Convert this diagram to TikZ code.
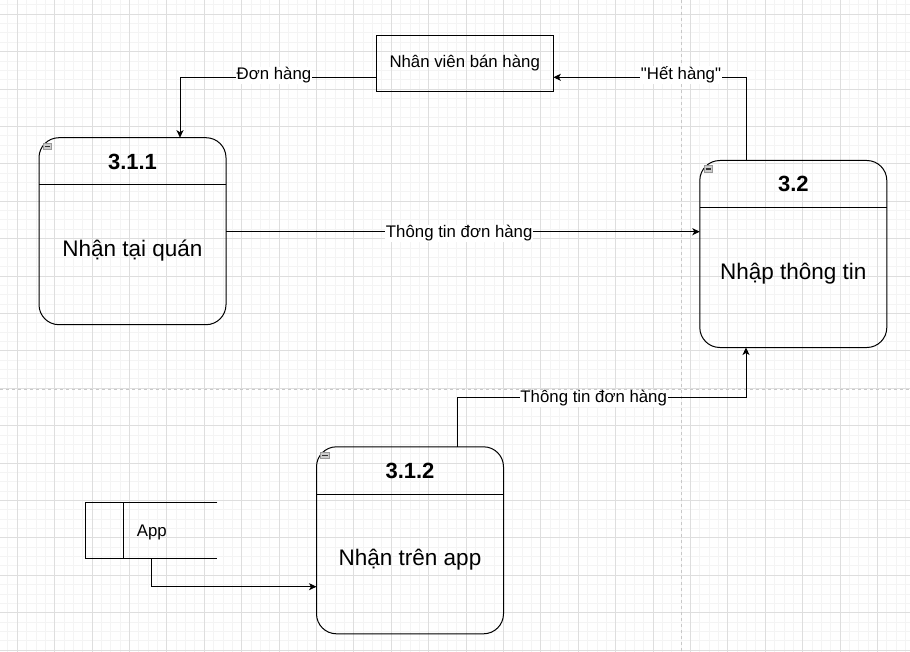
\documentclass[tikz,border=0pt]{standalone}
\usepackage{fontspec}
\setmainfont{Liberation Sans}
\newfontfamily\plainsans{Liberation Sans}
\usetikzlibrary{arrows.meta,calc}
\definecolor{gridmajor}{HTML}{DEDEDE}
\definecolor{gridminor}{HTML}{F4F4F4}
\definecolor{pagebrk}{HTML}{C8C8C8}
\begin{document}
\begin{tikzpicture}[x=1pt,y=-1pt,
  proc/.style={draw=black, line width=1pt, rounded corners=20pt, minimum width=187pt, minimum height=187pt, inner sep=0pt, outer sep=0pt},
  flow/.style={draw=black, line width=1pt, -{Stealth[length=7.5pt,width=7pt,inset=2pt]}},
  lbl/.style={fill=white, inner sep=0.6pt, anchor=base, font=\fontsize{16.8}{19}\selectfont},
  ttl/.style={anchor=base, font=\bfseries\fontsize{22}{25}\selectfont},
  bdy/.style={anchor=base, font=\fontsize{22.5}{26}\selectfont},
  ent/.style={draw=black, line width=1pt, inner sep=0pt, outer sep=0pt, font=\fontsize{16.8}{19}\selectfont}]
\useasboundingbox (0,0) rectangle (910,652);
\fill[white] (0,0) rectangle (910,652);
\begin{scope}
\clip (0,0) rectangle (910,652);
\foreach \i in {0,...,99} {\draw[gridminor, line width=1pt] ({-20.1+9.35*\i},0) -- ({-20.1+9.35*\i},652);}
\foreach \i in {0,...,72} {\draw[gridminor, line width=1pt] (0,{-23.1+9.35*\i}) -- (910,{-23.1+9.35*\i});}
\foreach \i in {0,...,24} {\draw[gridmajor, line width=1pt] ({17.3+37.4*\i},0) -- ({17.3+37.4*\i},652);}
\foreach \i in {0,...,17} {\draw[gridmajor, line width=1pt] (0,{14.3+37.4*\i}) -- (910,{14.3+37.4*\i});}
\draw[pagebrk, line width=1.2pt, dash pattern=on 3pt off 3pt] (681.5,0) -- (681.5,652);
\draw[pagebrk, line width=1.2pt, dash pattern=on 3pt off 3pt] (0,389.5) -- (910,389.5);
\end{scope}

% process boxes
\node[proc] (p311) at (132.5,231.2) {};
\node[proc] (p32) at (793.3,254) {};
\node[proc] (p312) at (410,540.3) {};
\foreach \b in {p311,p32,p312} {
  \draw[fill=gray!40, draw=gray!80, line width=0.7pt] ($(\b.north west)+(4.3,5.2)$) rectangle ++(8.4,6.6);
  \draw[black!80, line width=1.1pt] ($(\b.north west)+(5.8,8.5)$) -- ++(5.4,0);
  \draw[line width=1pt] ($(\b.north west)+(0,47.3)$) -- ($(\b.north east)+(0,47.3)$);
}
\node[ttl] (t311) at ($(p311.north)+(0,31.4)$) {3.1.1};
\node[bdy] (b311) at ($(p311.north)+(0,119)$) {Nhận tại quán};
\node[ttl] (t32) at ($(p32.north)+(0,31.4)$) {3.2};
\node[bdy] (b32) at ($(p32.north)+(0,119)$) {Nhập thông tin};
\node[ttl] (t312) at ($(p312.north)+(0,31.4)$) {3.1.2};
\node[bdy] (b312) at ($(p312.north)+(0,119)$) {Nhận trên app};

% external entity
\node[ent, minimum width=177.3pt, minimum height=55.6pt] (nv) at (464.7,63.5) {Nhân viên bán hàng};

% data store
\node[inner sep=0pt, outer sep=0pt, minimum width=131.6pt, minimum height=56pt] (app) at (151.5,530.7) {};
\draw[line width=1pt] (app.north east) -- (app.north west) -- (app.south west) -- (app.south east);
\draw[line width=1pt] ($(app.north west)+(37.6,0)$) -- ($(app.south west)+(37.6,0)$);
\node[anchor=base west, inner sep=0pt, font=\fontsize{16.8}{19}\selectfont] (apptxt) at (136.7,536.7) {App};

% flows
\coordinate (c1) at (180,77.3);
\draw[flow] ($(nv.west)+(0,13.8)$) -- (c1) -- (c1 |- p311.north);
\node[lbl] (l1) at (274,80) {Đơn hàng};

\draw[flow] ($(p32.north)+(-47.3,0)$) |- ($(nv.east)+(0,13.8)$);
\node[lbl, font=\plainsans\fontsize{16.8}{19}\selectfont] (l2) at (681,80) {"Hết hàng"};

\draw[flow] ($(p311.east)+(0,0.5)$) -- ($(p311.east -| p32.west)+(0,0.5)$);
\node[lbl] (l3) at (459.2,237.7) {Thông tin đơn hàng};

\coordinate (c4) at (457.3,397.3);
\draw[flow] ($(p312.north)+(47.3,0)$) -- (c4) -| ($(p32.south)+(-47.3,0)$);
\node[lbl] (l4) at (593.7,402.7) {Thông tin đơn hàng};

\draw[flow] (app.south) |- ($(p312.west)+(0,46.4)$);
\end{tikzpicture}
\end{document}
